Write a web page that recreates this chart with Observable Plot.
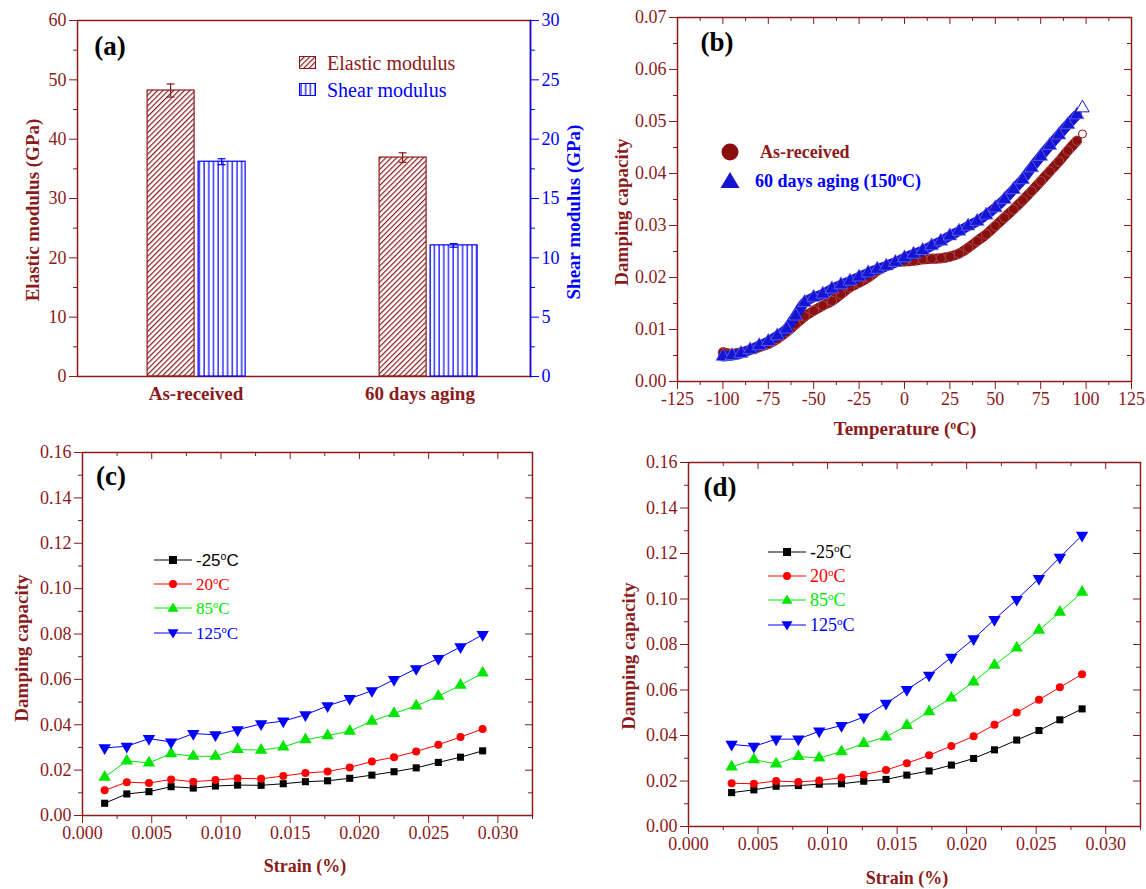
<!DOCTYPE html>
<html><head><meta charset="utf-8">
<script src="https://cdn.jsdelivr.net/npm/d3@7"></script>
<script src="https://cdn.jsdelivr.net/npm/@observablehq/plot@0.6"></script>
<style>
html,body{margin:0;padding:0;background:#fff;}
#root{position:relative;width:1146px;height:889px;overflow:hidden;background:#fff;font-family:"Liberation Serif","Times New Roman",serif;}
sup{font-size:0.62em;vertical-align:0;position:relative;top:-0.55em;}
</style></head>
<body>
<svg width="0" height="0" style="position:absolute">
<defs>
<pattern id="hatchElastic" patternUnits="userSpaceOnUse" width="3.8" height="3.8" patternTransform="rotate(45)">
<rect width="3.8" height="3.8" fill="#fff"/>
<line x1="0.6" y1="0" x2="0.6" y2="3.8" stroke="#8b1a1a" stroke-width="1.2"/>
</pattern>
<pattern id="hatchShear" patternUnits="userSpaceOnUse" width="4.7" height="10">
<rect width="4.7" height="10" fill="#fff"/>
<line x1="2" y1="0" x2="2" y2="10" stroke="#0000ff" stroke-width="1.2"/>
</pattern>
</defs></svg>
<div id="root"></div>
<script>
// ---------------- Panel (a) data ----------------
const categories = ["As-received", "60 days aging"];
const elasticModulus = [48.2, 36.9];
const elasticError = [1.1, 0.8];
const shearModulus = [18.1, 11.05];
const shearError = [0.25, 0.15];
const elasticTicks = [0, 10, 20, 30, 40, 50, 60];
const elasticMinorTicks = [5, 15, 25, 35, 45, 55];
const shearTicks = [0, 5, 10, 15, 20, 25, 30];
const shearMinorTicks = [2.5, 7.5, 12.5, 17.5, 22.5, 27.5];

// ---------------- Panel (b) data ----------------
const temperatureB = [-100,-95,-90,-85,-80,-75,-70,-65,-60,-55,-50,-45,-40,-35,-30,-25,-20,-15,-10,-5,0,5,10,15,20,25,30,35,40,45,50,55,60,65,70,75,80,85,90,95,98];
const dampingAsReceived = [0.0056,0.0053,0.0056,0.0061,0.0066,0.0072,0.0082,0.0095,0.0110,0.0125,0.0136,0.0146,0.0155,0.0168,0.0181,0.0190,0.0200,0.0213,0.0222,0.0229,0.0231,0.0232,0.0235,0.0236,0.0237,0.0240,0.0246,0.0257,0.0270,0.0283,0.0299,0.0315,0.0331,0.0348,0.0366,0.0385,0.0404,0.0423,0.0444,0.0463,0.0476];
const dampingAged = [0.0048,0.0050,0.0054,0.0061,0.0069,0.0077,0.0088,0.0101,0.0126,0.0152,0.0162,0.0168,0.0178,0.0186,0.0193,0.0201,0.0209,0.0216,0.0222,0.0229,0.0238,0.0245,0.0252,0.0261,0.0270,0.0280,0.0289,0.0299,0.0308,0.0320,0.0334,0.0350,0.0369,0.0388,0.0411,0.0433,0.0454,0.0474,0.0494,0.0513,0.0526];
const temperatureTicks = [-125,-100,-75,-50,-25,0,25,50,75,100,125];
const temperatureMinorTicks = [-112.5,-87.5,-62.5,-37.5,-12.5,12.5,37.5,62.5,87.5,112.5];
const dampingTicksB = [0,0.01,0.02,0.03,0.04,0.05,0.06,0.07];
const dampingMinorTicksB = [0.005,0.015,0.025,0.035,0.045,0.055,0.065];

// ---------------- Panel (c) data ----------------
const strainC = [0.0016,0.0032,0.0048,0.0064,0.0080,0.0096,0.0112,0.0129,0.0145,0.0161,0.0177,0.0193,0.0209,0.0225,0.0241,0.0257,0.0273,0.0289];
const dampingC_m25 = [0.0054,0.0095,0.0105,0.0127,0.0121,0.0130,0.0134,0.0133,0.0140,0.0149,0.0153,0.0164,0.0178,0.0193,0.0210,0.0234,0.0257,0.0285];
const dampingC_20 = [0.0111,0.0147,0.0143,0.0159,0.0149,0.0156,0.0164,0.0162,0.0174,0.0187,0.0194,0.0212,0.0238,0.0257,0.0282,0.0312,0.0346,0.0381];
const dampingC_85 = [0.0169,0.0241,0.0232,0.0273,0.0261,0.0261,0.0291,0.0288,0.0302,0.0334,0.0352,0.0372,0.0416,0.0450,0.0483,0.0526,0.0574,0.0628];
const dampingC_125 = [0.0298,0.0305,0.0339,0.0324,0.0361,0.0356,0.0378,0.0404,0.0416,0.0444,0.0483,0.0515,0.0550,0.0599,0.0647,0.0692,0.0743,0.0797];

// ---------------- Panel (d) data ----------------
const strainD = [0.0031,0.0047,0.0063,0.0079,0.0094,0.0110,0.0126,0.0142,0.0157,0.0173,0.0189,0.0205,0.0220,0.0236,0.0252,0.0267,0.0283];
const dampingD_m25 = [0.0149,0.0161,0.0177,0.0180,0.0186,0.0188,0.0199,0.0207,0.0226,0.0244,0.0270,0.0299,0.0337,0.0380,0.0422,0.0469,0.0517];
const dampingD_20 = [0.0190,0.0188,0.0200,0.0196,0.0202,0.0215,0.0228,0.0248,0.0278,0.0313,0.0354,0.0397,0.0447,0.0501,0.0557,0.0612,0.0669];
const dampingD_85 = [0.0262,0.0294,0.0275,0.0308,0.0301,0.0329,0.0365,0.0394,0.0444,0.0505,0.0565,0.0636,0.0709,0.0785,0.0863,0.0942,0.1030];
const dampingD_125 = [0.0361,0.0352,0.0384,0.0384,0.0419,0.0444,0.0481,0.0541,0.0602,0.0665,0.0744,0.0825,0.0910,0.0998,0.1090,0.1183,0.1280];

const strainTicks = [0,0.005,0.010,0.015,0.020,0.025,0.030];
const strainMinorTicks = [0.0025,0.0075,0.0125,0.0175,0.0225,0.0275,0.0325];
const dampingTicksCD = [0,0.02,0.04,0.06,0.08,0.10,0.12,0.14,0.16];
const dampingMinorTicksCD = [0.01,0.03,0.05,0.07,0.09,0.11,0.13,0.15];
const seriesNames = ["-25", "20", "85", "125"];

// ---------------- styling ----------------
const serif = '"Liberation Serif","Times New Roman",serif';
const sans = '"Liberation Sans",Arial,sans-serif';
const brown = "#8b1a1a";
const blue = "#0000ff";
const seriesColors = ["#000000", "#ff0000", "#00e600", "#0000ff"];
const tickFont = {fontFamily: serif, fontSize: 18};
const root = document.getElementById("root");

const triDown = {
  draw(ctx, size) {
    const s3 = Math.sqrt(3);
    const y = -Math.sqrt(size / (s3 * 3));
    ctx.moveTo(0, -y * 2);
    ctx.lineTo(-s3 * y, y);
    ctx.lineTo(s3 * y, y);
    ctx.closePath();
  }
};
const seriesSymbols = ["square", "circle", "triangle", triDown];
const seriesR = [4, 4, 4.6, 4.6];

function addPlot(svg, left, top) {
  svg.style.position = "absolute";
  svg.style.left = left + "px";
  svg.style.top = top + "px";
  root.appendChild(svg);
}
function baseStyle(color) {
  return {fontFamily: serif, fontSize: "18px", color: color, background: "transparent", overflow: "visible"};
}
function frameAxes(c) {
  const pw = c.w - c.ml - c.mr, ph = c.h - c.mt - c.mb;
  return [
    Plot.axisX({ticks: c.xTicks, tickFormat: c.xFmt, tickSize: 8, tickPadding: 3, label: null, ...tickFont}),
    Plot.axisX({ticks: c.xMinor, tickFormat: () => "", tickSize: 4, label: null}),
    Plot.axisY({ticks: c.yTicks, tickFormat: c.yFmt, tickSize: 8, tickPadding: 3, label: null, ...tickFont}),
    Plot.axisY({ticks: c.yMinor, tickFormat: () => "", tickSize: 4, label: null}),
    Plot.tickX(c.xTicks, {x: d => d, insetBottom: ph - 7, stroke: brown}),
    Plot.tickX(c.xMinor, {x: d => d, insetBottom: ph - 4, stroke: brown}),
    Plot.tickY(c.yTicks, {y: d => d, insetLeft: pw - 7, stroke: brown}),
    Plot.tickY(c.yMinor, {y: d => d, insetLeft: pw - 4, stroke: brown}),
    Plot.frame({stroke: brown, strokeWidth: 1.5})
  ];
}

// ---------------- Panel (a) ----------------
{
  const W = 600, H = 420, ml = 77, mr = 70, mt = 20, mb = 44;
  const pIn = 0.1, pOut = 0.0263;
  const step = (W - ml - mr) / (2 - pIn + 2 * pOut);
  const band = step * (1 - pIn);
  const eL = 64, sL = 115, bw = 47;
  const xScale = {type: "band", domain: categories, paddingInner: pIn, paddingOuter: pOut, round: false};
  const elasticRows = categories.map((c, i) => ({category: c, value: elasticModulus[i], err: elasticError[i]}));
  const shearRows = categories.map((c, i) => ({category: c, value: shearModulus[i], err: shearError[i]}));
  const errMarks = (rows, left, color) => {
    const cx = left + bw / 2;
    return [
      Plot.barY(rows, {x: "category", y1: d => d.value - d.err, y2: d => d.value + d.err, insetLeft: cx - 0.6, insetRight: band - cx - 0.6, fill: color}),
      Plot.tickY(rows, {x: "category", y: d => d.value + d.err, insetLeft: cx - 4, insetRight: band - cx - 4, stroke: color, strokeWidth: 1.2}),
      Plot.tickY(rows, {x: "category", y: d => d.value - d.err, insetLeft: cx - 4, insetRight: band - cx - 4, stroke: color, strokeWidth: 1.2})
    ];
  };
  const a1 = Plot.plot({
    width: W, height: H, marginLeft: ml, marginRight: mr, marginTop: mt, marginBottom: mb,
    style: baseStyle(brown),
    x: xScale,
    y: {domain: [0, 60]},
    marks: [
      Plot.barY(elasticRows, {x: "category", y: "value", fill: "url(#hatchElastic)", stroke: brown, strokeWidth: 1.2, insetLeft: eL, insetRight: band - eL - bw}),
      ...errMarks(elasticRows, eL, brown),
      Plot.axisX({ticks: [categories[0]], tickSize: 0, tickPadding: 10, dx: 8, fontWeight: "bold", fontSize: 19, fontFamily: serif, label: null}),
      Plot.axisX({ticks: [categories[1]], tickSize: 0, tickPadding: 10, dx: 0, fontWeight: "bold", fontSize: 19, fontFamily: serif, label: null}),
      Plot.axisY({ticks: elasticTicks, tickSize: 8, tickPadding: 3, label: null, ...tickFont}),
      Plot.axisY({ticks: elasticMinorTicks, tickFormat: () => "", tickSize: 4, label: null}),
      Plot.frame({stroke: brown, strokeWidth: 1.5})
    ]
  });
  addPlot(a1, 0, 0);
  const a2 = Plot.plot({
    width: W, height: H, marginLeft: ml, marginRight: mr, marginTop: mt, marginBottom: mb,
    style: baseStyle(blue),
    x: {...xScale, axis: null},
    y: {domain: [0, 30]},
    marks: [
      Plot.barY(shearRows, {x: "category", y: "value", fill: "url(#hatchShear)", stroke: blue, strokeWidth: 1.2, insetLeft: sL, insetRight: band - sL - bw}),
      ...errMarks(shearRows, sL, blue),
      Plot.axisY({anchor: "right", ticks: shearTicks, tickSize: 8, tickPadding: 3, label: null, ...tickFont}),
      Plot.axisY({anchor: "right", ticks: shearMinorTicks, tickFormat: () => "", tickSize: 4, label: null}),
      Plot.frame({anchor: "right", stroke: blue, strokeWidth: 1.5})
    ]
  });
  addPlot(a2, 0, 0);
}

// ---------------- Panel (b) ----------------
{
  const W = 566, H = 445, ml = 97, mr = 15, mt = 17, mb = 64;
  const arRows = temperatureB.map((t, i) => ({t, v: dampingAsReceived[i]}));
  const agRows = temperatureB.map((t, i) => ({t, v: dampingAged[i]}));
  const brownB = "#8a1010", blueB = "#1414d2";
  const b = Plot.plot({
    width: W, height: H, marginLeft: ml, marginRight: mr, marginTop: mt, marginBottom: mb,
    style: baseStyle(brown),
    x: {domain: [-125, 125]},
    y: {domain: [0, 0.07]},
    marks: [
      Plot.line(arRows.slice(0, -1), {x: "t", y: "v", stroke: brownB, strokeWidth: 10, curve: "monotone-x"}),
      Plot.dot(arRows.slice(0, -1), {x: "t", y: "v", r: 4.8, fill: brownB, stroke: "#c07070", strokeWidth: 0.6}),
      Plot.dot(arRows.slice(-1), {x: "t", y: "v", r: 4, fill: "#fff", stroke: brownB, strokeWidth: 1}),
      Plot.line(agRows.slice(0, -1), {x: "t", y: "v", stroke: blueB, strokeWidth: 10, curve: "monotone-x"}),
      Plot.dot(agRows.slice(0, -1), {x: "t", y: "v", r: 5.2, symbol: "triangle", fill: blueB, stroke: "#8080ff", strokeWidth: 0.6}),
      Plot.dot(agRows.slice(-1), {x: "t", y: "v", r: 5, symbol: "triangle", fill: "#fff", stroke: blueB, strokeWidth: 1}),
      ...frameAxes({w: W, h: H, ml, mr, mt, mb, xTicks: temperatureTicks, xMinor: temperatureMinorTicks, yTicks: dampingTicksB, yMinor: dampingMinorTicksB, xFmt: d => String(d), yFmt: d3.format(".2f")})
    ]
  });
  addPlot(b, 580, 0);
}

// ---------------- Panels (c) and (d) ----------------
function strainPanel(strain, seriesValues, geom, left, top) {
  const marks = [];
  seriesValues.forEach((vals, k) => {
    const rows = strain.map((s, i) => ({s, v: vals[i]}));
    marks.push(Plot.line(rows, {x: "s", y: "v", stroke: seriesColors[k], strokeWidth: 1}));
    marks.push(Plot.dot(rows, {x: "s", y: "v", r: seriesR[k], symbol: seriesSymbols[k], fill: seriesColors[k], stroke: "none"}));
  });
  const p = Plot.plot({
    width: geom.w, height: geom.h, marginLeft: geom.ml, marginRight: geom.mr, marginTop: geom.mt, marginBottom: geom.mb,
    style: baseStyle(brown),
    x: {domain: [0, 0.0325]},
    y: {domain: [0, 0.16]},
    marks: [
      ...marks,
      ...frameAxes({...geom, xTicks: strainTicks, xMinor: strainMinorTicks, yTicks: dampingTicksCD, yMinor: dampingMinorTicksCD, xFmt: d3.format(".3f"), yFmt: d3.format(".2f")})
    ]
  });
  addPlot(p, left, top);
}
strainPanel(strainC, [dampingC_m25, dampingC_20, dampingC_85, dampingC_125], {w: 570, h: 454, ml: 82, mr: 38, mt: 17, mb: 74}, 0, 435);
strainPanel(strainD, [dampingD_m25, dampingD_20, dampingD_85, dampingD_125], {w: 561, h: 444, ml: 103, mr: 6, mt: 17, mb: 63}, 585, 445);

// ---------------- Text overlays ----------------
function text(html, x, y, o = {}) {
  const d = document.createElement("div");
  d.innerHTML = html;
  let tr = o.anchor === "start" ? "translate(0,-50%)" : "translate(-50%,-50%)";
  if (o.rotate) tr += " rotate(-90deg)";
  Object.assign(d.style, {
    position: "absolute", left: x + "px", top: y + "px", transform: tr, whiteSpace: "nowrap", lineHeight: "1",
    color: o.color || "#000", fontSize: (o.size || 17) + "px", fontWeight: o.bold ? "bold" : "normal", fontFamily: o.family || serif
  });
  root.appendChild(d);
}
function glyph(shape, color, x1, x2, cy, s) {
  const w = x2 - x1, cx = w / 2, my = 10;
  let m = "";
  if (shape === "square") m = `<rect x="${cx - s}" y="${my - s}" width="${2 * s}" height="${2 * s}" fill="${color}"/>`;
  if (shape === "circle") m = `<circle cx="${cx}" cy="${my}" r="${s}" fill="${color}"/>`;
  if (shape === "up") m = `<path d="M${cx},${my - s * 1.2}L${cx + s * 1.2},${my + s * 0.8}L${cx - s * 1.2},${my + s * 0.8}Z" fill="${color}"/>`;
  if (shape === "down") m = `<path d="M${cx},${my + s * 1.2}L${cx + s * 1.2},${my - s * 0.8}L${cx - s * 1.2},${my - s * 0.8}Z" fill="${color}"/>`;
  const line = `<line x1="0" y1="${my}" x2="${w}" y2="${my}" stroke="${color}" stroke-width="1"/>`;
  root.insertAdjacentHTML("beforeend", `<svg width="${w}" height="20" style="position:absolute;left:${x1}px;top:${cy - 10}px;overflow:visible">${line}${m}</svg>`);
}

// axis titles
text("Elastic modulus (GPa)", 32, 210, {rotate: true, bold: true, size: 19, color: brown});
text("Shear modulus (GPa)", 573, 212, {rotate: true, bold: true, size: 19, color: blue});
text("Damping capacity", 621, 212, {rotate: true, bold: true, size: 19, color: brown});
text("Temperature (<sup>o</sup>C)", 905, 428, {bold: true, size: 19, color: brown});
text("Damping capacity", 21, 648, {rotate: true, bold: true, size: 19, color: brown});
text("Strain (%)", 305, 866, {bold: true, size: 18, color: brown});
text("Damping capacity", 628, 656, {rotate: true, bold: true, size: 19, color: brown});
text("Strain (%)", 907, 878, {bold: true, size: 18, color: brown});

// panel labels
text("(a)", 110, 46, {bold: true, size: 27});
text("(b)", 717, 42, {bold: true, size: 27});
text("(c)", 111, 476, {bold: true, size: 27});
text("(d)", 720, 487, {bold: true, size: 27});

// legend (a)
root.insertAdjacentHTML("beforeend", `<svg width="18" height="14" style="position:absolute;left:299px;top:56px"><rect x="0.5" y="0.5" width="16" height="12" fill="url(#hatchElastic)" stroke="${brown}"/></svg>`);
root.insertAdjacentHTML("beforeend", `<svg width="18" height="14" style="position:absolute;left:299px;top:83px"><rect x="0.5" y="0.5" width="16" height="12" fill="url(#hatchShear)" stroke="${blue}"/></svg>`);
text("Elastic modulus", 327, 63, {anchor: "start", size: 20, color: brown});
text("Shear modulus", 327, 90, {anchor: "start", size: 20, color: blue});

// legend (b)
root.insertAdjacentHTML("beforeend", `<svg width="24" height="24" style="position:absolute;left:718px;top:140px"><circle cx="12" cy="12" r="8.5" fill="#8a1010"/></svg>`);
root.insertAdjacentHTML("beforeend", `<svg width="24" height="24" style="position:absolute;left:718px;top:169px"><path d="M12,3L21.5,19L2.5,19Z" fill="#1414d2"/></svg>`);
text("As-received", 760, 152, {anchor: "start", bold: true, size: 18, color: brown});
text("60 days aging (150<sup>o</sup>C)", 755, 181, {anchor: "start", bold: true, size: 18, color: blue});

// legends (c) and (d)
const shapes = ["square", "circle", "up", "down"];
const legC = [560, 584, 608, 633];
const legD = [552, 576, 600, 625];
seriesNames.forEach((n, k) => {
  glyph(shapes[k], seriesColors[k], 154, 192, legC[k], k < 2 ? 4 : 4.6);
  text(`${n}<sup>o</sup>C`, 196, legC[k], {anchor: "start", size: 17, color: seriesColors[k], family: k === 0 ? sans : serif});
  glyph(shapes[k], seriesColors[k], 768, 806, legD[k], k < 2 ? 4 : 4.6);
  text(`${n}<sup>o</sup>C`, 810, legD[k], {anchor: "start", size: 18, color: seriesColors[k]});
});
</script>
</body></html>
